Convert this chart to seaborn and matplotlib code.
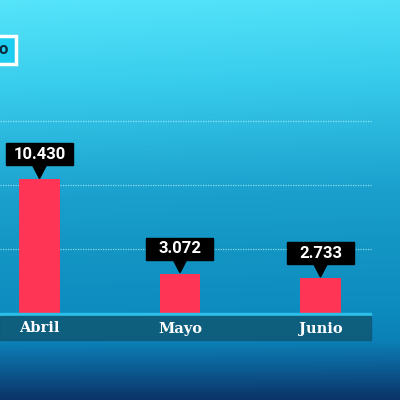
import matplotlib.pyplot as plt
import matplotlib.colors as mcolors
from matplotlib.patches import Rectangle, Polygon
import seaborn as sns
import numpy as np

# Data
months = ['Abril', 'Mayo', 'Junio']
values = [10430, 3072, 2733]
value_labels = ['10.430', '3.072', '2.733']
grid_levels = [5000, 10000, 15000]

sns.set_style("white")
plt.rcParams['font.family'] = ['Roboto', 'DejaVu Sans']

fig = plt.figure(figsize=(4, 4), dpi=100)

# Background gradient (top light cyan -> bottom navy)
bg = fig.add_axes([0, 0, 1, 1])
bg.set_axis_off()
stops = [(0.0, '#55e4fa'), (0.22, '#38ccec'), (0.5, '#1a9fcc'),
         (0.62, '#1496c4'), (0.78, '#0d8cc0'), (0.86, '#0b80b6'),
         (0.93, '#0c5a90'), (1.0, '#0b3468')]
cmap = mcolors.LinearSegmentedColormap.from_list('bg', stops)
grad = np.linspace(0, 1, 400).reshape(-1, 1)
shade = np.linspace(0.0, 0.04, 400).reshape(1, -1)
bg.imshow(grad + shade * (1 - grad), cmap=cmap, aspect='auto',
          extent=[0, 1, 0, 1], vmin=0, vmax=1)
bg.set_xlim(0, 1)
bg.set_ylim(0, 1)

# Data axes covering the whole figure
ax = fig.add_axes([0, 0, 1, 1])
ax.patch.set_alpha(0)
px = 1000 / 12.8  # data units per pixel
sns.barplot(x=months, y=values, color='#ff3555', width=0.29,
            saturation=1, linewidth=0, ax=ax, zorder=3)
x0, x1 = -0.281, 2.566
ax.set_xlim(x0, x1)
ax.set_ylim(-87 * px, 313 * px)
ax.set_axis_off()

# Dotted grid lines
x_end = (371 - 39.5) / 140.5
ax.hlines(grid_levels, x0, x_end, colors='#bdf3ff', linestyles=(0, (1, 1)),
          linewidth=0.9, alpha=0.7, zorder=1)

# Base line and label band
ax.add_patch(Rectangle((x0, -3 * px), x_end - x0, 3 * px,
                       color='#2cc0e8', zorder=4))
ax.add_patch(Rectangle((x0, -27 * px), x_end - x0, 24 * px,
                       color='#0f5a78', alpha=0.9, zorder=4))
for i, m in enumerate(months):
    ax.text(i, -15.5 * px, m, ha='center', va='center', color='white',
            fontsize=10.5, fontweight='bold', family='DejaVu Serif', zorder=5)

# Value callouts
bw, bh = 67 / 140.5, 22
for i, (v, lab) in enumerate(zip(values, value_labels)):
    bottom = v + 14 * px
    ax.add_patch(Rectangle((i - bw / 2, bottom), bw, bh * px,
                           color='black', zorder=6))
    tri = Polygon([(i - 7 / 140.5, bottom + 0.5 * px),
                   (i + 7 / 140.5, bottom + 0.5 * px),
                   (i, v + 1 * px)], closed=True, color='black', zorder=6)
    ax.add_patch(tri)
    ax.text(i, bottom + bh / 2 * px, lab, ha='center', va='center',
            color='white', fontsize=12, fontweight='bold', zorder=7)

# Partially visible title box at top left
fig.patches.append(Rectangle((-0.05, 1 - 64 / 400), 0.09, 28 / 400,
                             transform=fig.transFigure, facecolor='#1ecdf0',
                             edgecolor='white', linewidth=2.5, zorder=10))
fig.text(0.008, 1 - 50 / 400, 'o', ha='center', va='center',
         color='#0b2a40', fontsize=12, fontweight='bold', zorder=11)

plt.savefig('out.png', dpi=100)
